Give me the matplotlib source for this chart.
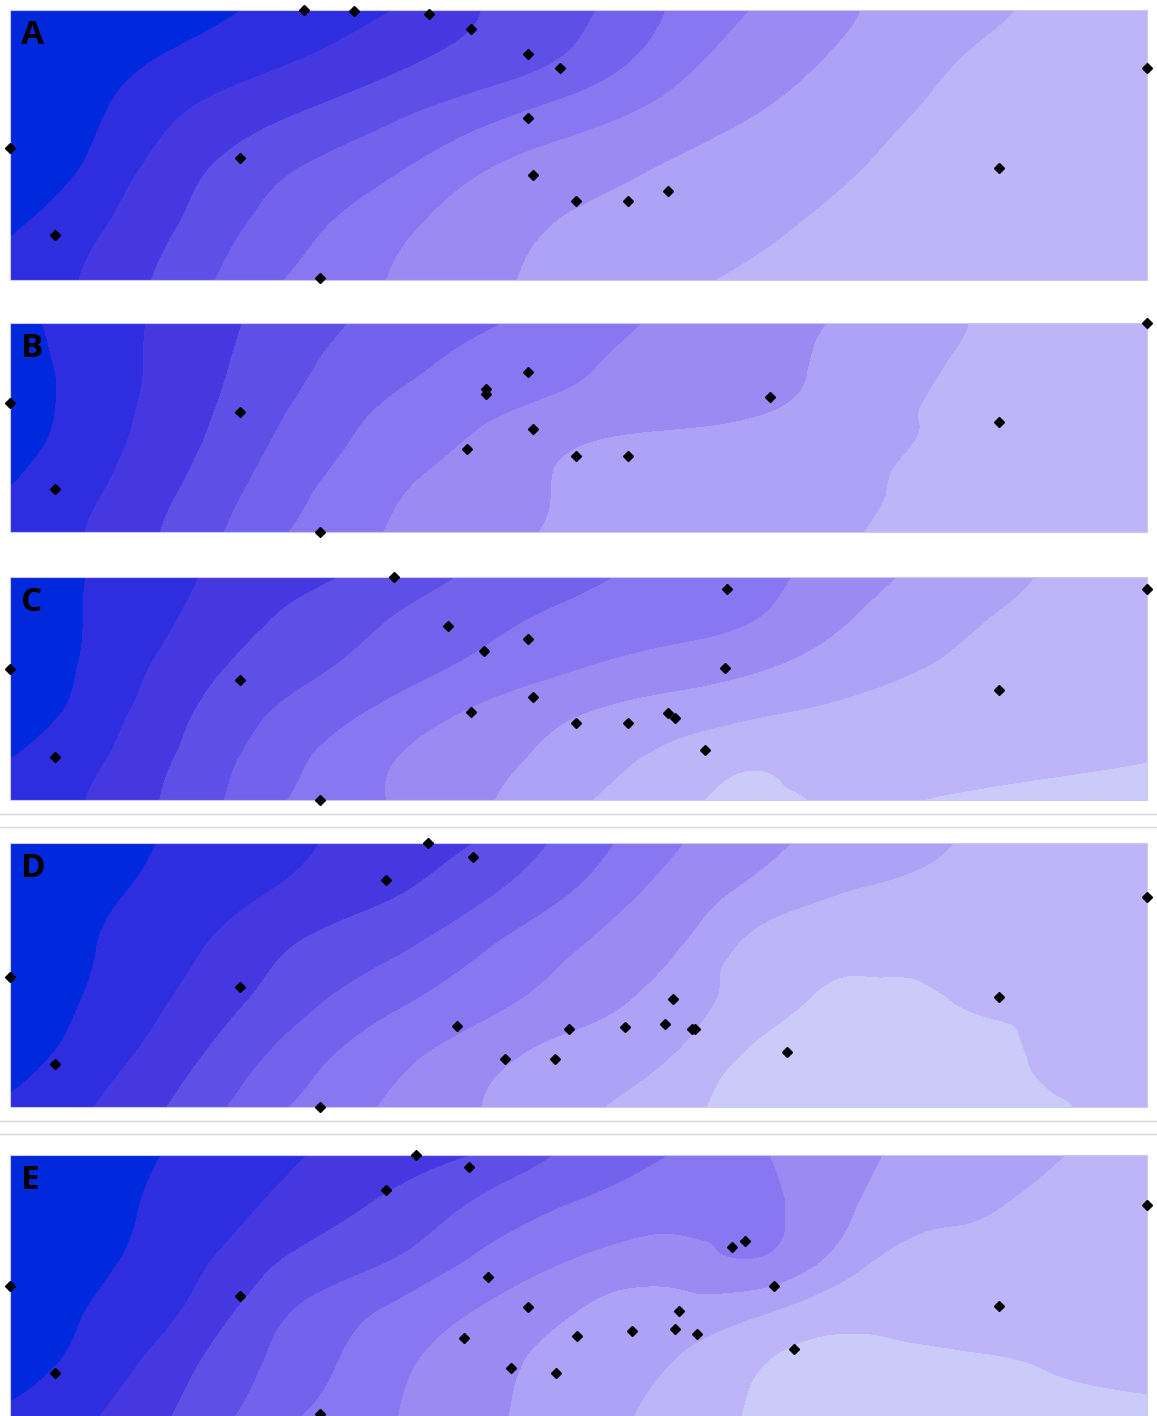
import numpy as np
import matplotlib
matplotlib.use('Agg')
import matplotlib.pyplot as plt
import matplotlib.tri as mtri
from matplotlib.lines import Line2D

# band colours, darkest (lowest class) to lightest
band_colors = ['#0028dc', '#2e2ee0', '#4638e0', '#5e4fe6', '#7262ec',
               '#8877f0', '#9a8af2', '#ada2f6', '#bdb5f8', '#cbcbf9']
levels = [-5, 1, 2, 3, 4, 5, 6, 7, 8, 9, 15]

panel_names = ['A', 'B', 'C', 'D', 'E']

# class value of the field on a 13 x 6 node grid per panel (rows top -> bottom)
field_a = [
    [-0.5, 0.12, 0.73, 1.34, 1.96, 3.02, 3.80, 5.11, 6.16, 7.01, 7.59, 8.20, 8.45],
    [0.00, 0.70, 1.37, 2.03, 2.77, 3.48, 4.31, 5.65, 6.61, 7.34, 8.01, 8.30, 8.55],
    [-0.2, 1.02, 2.23, 3.05, 3.86, 4.76, 5.65, 6.42, 7.11, 7.72, 8.20, 8.40, 8.60],
    [-0.1, 1.46, 2.90, 4.01, 4.86, 5.99, 6.60, 7.15, 7.58, 8.01, 8.30, 8.50, 8.65],
    [0.85, 1.97, 3.33, 4.61, 5.68, 6.54, 7.15, 7.51, 7.88, 8.20, 8.35, 8.50, 8.65],
    [1.30, 2.32, 3.75, 5.12, 6.02, 6.77, 7.34, 7.83, 8.15, 8.30, 8.45, 8.55, 8.65],
]
field_b = [
    [0.70, 1.59, 2.55, 3.53, 4.29, 4.87, 5.56, 6.19, 6.67, 7.22, 7.93, 8.30, 8.55],
    [0.51, 1.57, 2.64, 3.76, 4.66, 5.34, 5.90, 6.34, 6.76, 7.40, 8.06, 8.35, 8.55],
    [0.41, 1.61, 2.78, 4.05, 5.10, 5.80, 6.24, 6.57, 6.90, 7.62, 8.16, 8.40, 8.60],
    [0.58, 1.76, 2.99, 4.38, 5.43, 6.25, 7.01, 7.30, 7.58, 7.81, 8.22, 8.42, 8.60],
    [1.02, 2.00, 3.31, 4.72, 5.83, 6.58, 7.11, 7.38, 7.65, 7.90, 8.27, 8.45, 8.60],
    [1.30, 2.23, 3.60, 5.07, 6.04, 6.70, 7.15, 7.43, 7.71, 7.99, 8.32, 8.48, 8.60],
]
field_c = [
    [0.33, 1.17, 2.01, 2.64, 3.42, 4.22, 4.81, 5.33, 5.83, 6.66, 7.45, 8.10, 8.40],
    [0.22, 1.23, 2.26, 3.23, 4.02, 4.76, 5.26, 5.65, 6.11, 7.14, 7.88, 8.20, 8.45],
    [0.19, 1.36, 2.67, 3.65, 4.48, 5.24, 5.92, 6.43, 6.93, 7.64, 8.10, 8.30, 8.45],
    [0.33, 1.60, 3.07, 4.24, 5.22, 6.17, 6.90, 7.39, 7.85, 8.20, 8.35, 8.50, 8.60],
    [0.95, 1.94, 3.38, 4.75, 5.90, 6.63, 7.44, 8.25, 8.85, 8.40, 8.50, 8.80, 8.95],
    [1.30, 2.23, 3.60, 5.09, 6.02, 6.87, 7.88, 8.68, 9.20, 8.80, 9.10, 9.20, 9.20],
]
field_d = [
    [0.09, 0.68, 1.27, 1.85, 2.44, 3.09, 4.46, 5.85, 6.83, 7.46, 8.01, 8.30, 8.45],
    [0.18, 0.86, 1.55, 2.23, 2.92, 3.88, 5.16, 6.42, 7.43, 8.10, 8.30, 8.45, 8.55],
    [0.18, 1.07, 1.95, 3.04, 3.79, 4.92, 5.99, 6.88, 8.50, 8.75, 8.70, 8.50, 8.50],
    [0.20, 1.26, 2.38, 3.61, 4.75, 5.67, 6.54, 7.47, 8.63, 9.20, 8.98, 8.80, 8.60],
    [0.51, 1.62, 2.93, 4.42, 5.62, 6.59, 7.36, 7.98, 9.30, 9.40, 9.30, 8.85, 8.70],
    [1.20, 2.13, 3.52, 5.06, 6.11, 7.02, 7.84, 8.64, 9.30, 9.40, 9.35, 9.05, 8.80],
]
field_e = [
    [-0.04, 0.61, 1.27, 1.92, 2.48, 3.10, 4.30, 5.03, 5.98, 6.81, 7.39, 7.90, 8.35],
    [-0.14, 0.69, 1.51, 2.34, 3.22, 4.25, 5.10, 5.56, 5.85, 7.09, 7.82, 8.30, 8.45],
    [-0.11, 0.86, 1.83, 3.15, 3.97, 5.23, 6.06, 6.45, 6.10, 7.80, 8.25, 8.40, 8.50],
    [0.21, 1.17, 2.34, 4.05, 5.14, 6.11, 7.02, 7.49, 7.96, 8.70, 8.50, 8.55, 8.65],
    [0.55, 1.54, 3.02, 4.44, 5.68, 6.67, 7.41, 8.03, 9.03, 9.30, 9.15, 8.95, 8.80],
    [1.25, 2.07, 3.43, 4.92, 5.91, 6.77, 7.58, 8.37, 9.15, 9.30, 9.30, 9.25, 9.20],
]

# station positions (x across the section, depth down from the panel top)
sta_a_x = [294, 344, 419, 461, 518, 550, 1137, 0, 230, 518, 523, 989, 566, 618, 658, 45, 310]
sta_a_y = [0, 1, 4, 19, 44, 58, 58, 138, 148, 108, 165, 158, 191, 191, 181, 225, 268]
sta_b_x = [1137, 0, 230, 476, 476, 518, 760, 989, 523, 457, 566, 618, 45, 310]
sta_b_y = [0, 80, 89, 66, 71, 49, 74, 99, 106, 126, 133, 133, 166, 209]
sta_c_x = [384, 717, 1137, 438, 474, 518, 0, 230, 715, 989, 523, 461, 566, 618, 658, 665, 695, 45, 310]
sta_c_y = [0, 12, 12, 49, 74, 62, 92, 103, 91, 113, 120, 135, 146, 146, 136, 141, 173, 180, 223]
sta_d_x = [418, 463, 376, 1137, 0, 230, 989, 663, 447, 559, 615, 655, 682, 685, 495, 545, 777, 45, 310]
sta_d_y = [0, 14, 37, 54, 134, 144, 154, 156, 183, 186, 184, 181, 186, 186, 216, 216, 209, 221, 264]
sta_e_x = [406, 459, 376, 1137, 722, 735, 0, 230, 478, 764, 518, 989, 669, 454, 567, 622, 665, 687,
           501, 546, 784, 45, 310]
sta_e_y = [0, 12, 35, 50, 92, 86, 131, 141, 122, 131, 152, 151, 156, 183, 181, 176, 174, 179,
           213, 218, 194, 218, 259]

fields = [field_a, field_b, field_c, field_d, field_e]
stations = [(sta_a_x, sta_a_y), (sta_b_x, sta_b_y), (sta_c_x, sta_c_y),
            (sta_d_x, sta_d_y), (sta_e_x, sta_e_y)]

# panel frames in pixels: top, bottom
W, H = 1157, 1416
frames = [(10, 280), (323, 532), (577, 800), (843, 1107), (1155, 1418)]
x_left, x_right = 10, 1147
width = x_right - x_left


def grid_triangles(nx, ny):
    # split every cell along the top-right / bottom-left diagonal
    tris = []
    for j in range(ny - 1):
        for i in range(nx - 1):
            a = j * nx + i
            b = a + 1
            c = a + nx
            d = c + 1
            tris.append([a, b, c])
            tris.append([b, d, c])
    return tris


fig = plt.figure(figsize=(W / 100, H / 100), dpi=100)
fig.patch.set_facecolor('white')

for name, field, (sx, sy), (top, bot) in zip(panel_names, fields, stations, frames):
    h = bot - top
    ax = fig.add_axes([x_left / W, 1 - bot / H, width / W, h / H])
    nx, ny = len(field[0]), len(field)
    z = np.array(field).ravel()
    X, Y = np.meshgrid(np.linspace(0, width, nx), np.linspace(0, h, ny))
    tri = mtri.Triangulation(X.ravel(), Y.ravel(), grid_triangles(nx, ny))
    interp = mtri.CubicTriInterpolator(tri, z, kind='min_E')
    tri_f, z_f = mtri.UniformTriRefiner(tri).refine_field(z, triinterpolator=interp, subdiv=4)
    ax.tricontourf(tri_f, z_f, levels=levels, colors=band_colors)
    ax.plot(sx, sy, 'D', color='black', markersize=5.5, clip_on=False, zorder=5)
    ax.set_xlim(0, width)
    ax.set_ylim(h, 0)
    ax.set_xticks([])
    ax.set_yticks([])
    for sp in ax.spines.values():
        sp.set_color('#cdc8ec')
        sp.set_linewidth(0.8)
    fig.text((x_left + 11) / W, 1 - (top + 34) / H, name, fontsize=24,
             fontweight='bold', family='Open Sans', color='black',
             va='baseline', ha='left')

# thin grey rules between the lower panels
for yy in [813.5, 826.5, 1120.5, 1133.5]:
    fig.add_artist(Line2D([0, 1], [1 - yy / H, 1 - yy / H], color='#d6d6d6', lw=1.0))

fig.savefig('out.png', dpi=100)
